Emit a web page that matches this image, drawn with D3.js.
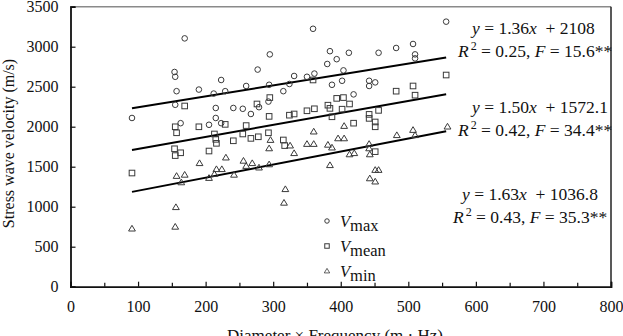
<!DOCTYPE html>
<html>
<head>
<meta charset="utf-8">
<script src="https://cdn.jsdelivr.net/npm/d3@7"></script>
<style>
body { margin: 0; background: #fff; }
svg { display: block; font-family: "Liberation Serif", "Times New Roman", serif; }
</style>
</head>
<body>
<div class="container"></div>
<script>
const WIDTH = 623;
const HEIGHT = 336;
const LEFT = 70.5, RIGHT = 611, TOP = 6.7, BOTTOM = 286.7;

var xTicks = [0, 100, 200, 300, 400, 500, 600, 700, 800];
var xMinorTicks = [50, 150, 250, 350, 450, 550, 650, 750];
var yTicks = [0, 500, 1000, 1500, 2000, 2500, 3000, 3500];

var vmax = [[91,2109],[154,2684],[155,2624],[157,2444],[155,2274],[163,2044],[169,3104],[190,2464],
    [205,2024],[212,2414],[215,2234],[215,2109],[223,2584],[223,2044],[229,2444],[241,2234],[255,2224],
    [260,2509],[267,2159],[277,2714],[279,2244],[293,2314],[294,2524],[295,2904],[315,2444],[324,2534],
    [331,2634],[350,2624],[359,3224],[361,2664],[380,2784],[384,2944],[387,2524],[394,2844],[402,2574],
    [404,2704],[412,2924],[419,2404],[442,2574],[442,2509],[451,2554],[456,2924],[482,2984],[507,3034],
    [510,2904],[510,2854],[556,3313]];
var vmean = [[91,1421],[154,1724],[155,1999],[157,1924],[155,1639],[163,1674],[169,2259],[190,1999],
    [205,1696],[213,1909],[215,1842],[216,1792],[229,2029],[241,1824],[255,1909],[260,2014],[267,1854],
    [278,1874],[276,2284],[293,1924],[294,2129],[295,2364],[315,1834],[317,1764],[324,2144],[331,2159],
    [350,2199],[359,2584],[361,2224],[381,2269],[384,2229],[387,2124],[394,2354],[402,2219],[404,2364],
    [413,2284],[419,2044],[442,2154],[442,2104],[451,2059],[451,1999],[451,1688],[456,2204],[482,2444],
    [507,2509],[510,2394],[556,2646]];
var vmin = [[91,726],[155,749],[156,994],[157,1384],[164,1304],[169,1399],[191,1544],[205,1359],
    [213,1409],[216,1469],[224,1469],[230,1614],[242,1399],[256,1574],[260,1509],[269,1544],[279,1489],
    [294,1529],[294,1729],[296,1834],[316,1049],[318,1219],[325,1764],[331,1669],[350,1784],[360,1784],
    [360,1939],[381,1774],[387,1739],[384,1519],[396,1854],[405,1854],[405,2009],[413,1654],[420,1669],
    [442,1784],[442,1729],[443,1654],[443,1354],[451,1314],[451,1459],[456,1459],[483,1894],[507,1959],
    [510,1894],[558,2001]];

var slopes = [1.36, 1.50, 1.63];
var intercepts = [2108, 1572.1, 1036.8];
var fitRange = [91, 556];
var slopeText = ['1.36', '1.50', '1.63'];
var interceptText = ['2108', '1572.1', '1036.8'];
var r2Text = ['0.25', '0.42', '0.43'];
var fText = ['15.6', '34.4', '35.3'];
var legendNames = ['max', 'mean', 'min'];

// left edge of line 1, left edge of line 2, baseline of line 1
var eqPos = [[472, 458, 34], [472, 458, 113.3], [462, 453, 200]];

var translate = function(x, y) {
    return `translate(${x},${y})`;
};

var trianglePath = function(cx, cy) {
    return `M${cx},${cy - 3.3}L${cx + 3.4},${cy + 2.4}L${cx - 3.4},${cy + 2.4}Z`;
};

var drawMarker = function(g, kind, cx, cy, s) {
    if (kind === 0) {
        g.append('circle').attr('cx', cx).attr('cy', cy).attr('r', 2.8 * s);
    } else if (kind === 1) {
        g.append('rect').attr('x', cx - 2.8 * s).attr('y', cy - 2.8 * s)
            .attr('width', 5.6 * s).attr('height', 5.6 * s);
    } else {
        g.append('path').attr('d', trianglePath(cx, cy))
            .attr('transform', `translate(${cx},${cy}) scale(${s}) translate(${-cx},${-cy})`);
    }
};

var fillLayout = function() {
    var svg = d3.select('.container').append('svg')
        .attr('width', WIDTH)
        .attr('height', HEIGHT);

    let xScale = d3.scaleLinear().domain([0, 800]).range([LEFT, RIGHT]);
    let yScale = d3.scaleLinear().domain([0, 3500]).range([BOTTOM, TOP]);

    // frame: top grey, right dark
    svg.append('line').attr('x1', LEFT).attr('x2', RIGHT).attr('y1', TOP).attr('y2', TOP)
        .attr('stroke', '#8a8a8a').attr('stroke-width', 1.5);
    svg.append('line').attr('x1', RIGHT).attr('x2', RIGHT).attr('y1', TOP).attr('y2', BOTTOM)
        .attr('stroke', '#222').attr('stroke-width', 1.5);

    let xAxis = d3.axisBottom(xScale).tickValues(xTicks).tickSize(-5).tickPadding(14).tickFormat((d) => d);
    let xMinor = d3.axisBottom(xScale).tickValues(xMinorTicks).tickSize(-4).tickFormat('');
    let yAxis = d3.axisLeft(yScale).tickValues(yTicks).tickSize(-5).tickPadding(12).tickFormat((d) => d);

    var gx = svg.append('g').attr('transform', translate(0, BOTTOM)).call(xAxis);
    svg.append('g').attr('transform', translate(0, BOTTOM)).call(xMinor)
        .select('.domain').remove();
    var gy = svg.append('g').attr('transform', translate(LEFT, 0)).call(yAxis);

    svg.selectAll('.domain').attr('stroke', '#111').attr('stroke-width', 1.8);
    svg.selectAll('.tick line').attr('stroke', '#111').attr('stroke-width', 1.2);
    gx.selectAll('text').attr('font-size', 16).attr('font-family', 'Liberation Serif').attr('fill', '#111');
    gy.selectAll('text').attr('font-size', 16).attr('font-family', 'Liberation Serif').attr('fill', '#111');

    svg.append('text')
        .attr('transform', translate(14, 143.5) + ' rotate(-90)')
        .attr('text-anchor', 'middle')
        .attr('font-size', 16)
        .attr('fill', '#111')
        .text('Stress wave velocity (m/s)');

    svg.append('text')
        .attr('x', 335).attr('y', 341)
        .attr('text-anchor', 'middle')
        .attr('font-size', 17)
        .attr('fill', '#111')
        .text('Diameter \u00d7 Frequency (m \u00b7 Hz)');

    // fitted lines
    var fits = svg.append('g');
    slopes.forEach(function(b, i) {
        var line = d3.line().x((x) => xScale(x)).y((x) => yScale(b * x + intercepts[i]));
        fits.append('path')
            .attr('d', line(fitRange))
            .attr('stroke', '#000').attr('stroke-width', 2).attr('fill', 'none');
    });

    // points
    [vmax, vmean, vmin].forEach(function(series, k) {
        var g = svg.append('g').attr('fill', 'none').attr('stroke', '#3a3a3a').attr('stroke-width', 1);
        series.forEach(function(p) {
            drawMarker(g, k, xScale(p[0]), yScale(p[1]), 1);
        });
    });

    // equations
    eqPos.forEach(function(pos, i) {
        var t1 = svg.append('text').attr('x', pos[0]).attr('y', pos[2])
            .attr('font-size', 17.5).attr('fill', '#111');
        t1.append('tspan').attr('font-style', 'italic').text('y');
        t1.append('tspan').text(' = ' + slopeText[i]);
        t1.append('tspan').attr('font-style', 'italic').text('x');
        t1.append('tspan').text('\u00a0 + ' + interceptText[i]);

        var t2 = svg.append('text').attr('x', pos[1]).attr('y', pos[2] + 22.5)
            .attr('font-size', 17.5).attr('fill', '#111');
        t2.append('tspan').attr('font-style', 'italic').text('R');
        t2.append('tspan').attr('dx', 2).attr('dy', -7).attr('font-size', 12).text('2');
        t2.append('tspan').attr('dy', 7).text(' = ' + r2Text[i] + ', ');
        t2.append('tspan').attr('font-style', 'italic').text('F');
        t2.append('tspan').text(' = ' + fText[i] + '**');
    });

    // legend
    var lg = svg.append('g');
    legendNames.forEach(function(name, i) {
        var cy = 221 + i * 25;
        var mg = lg.append('g').attr('fill', 'none').attr('stroke', '#3a3a3a').attr('stroke-width', 1);
        drawMarker(mg, i, 327, cy, 0.8);
        var t = lg.append('text').attr('x', 340).attr('y', cy + 5.5)
            .attr('font-size', 16.5).attr('fill', '#111');
        t.append('tspan').attr('font-style', 'italic').text('V');
        t.append('tspan').attr('dy', 4).text(name);
    });
};
window.onload = fillLayout;
</script>
</body>
</html>
